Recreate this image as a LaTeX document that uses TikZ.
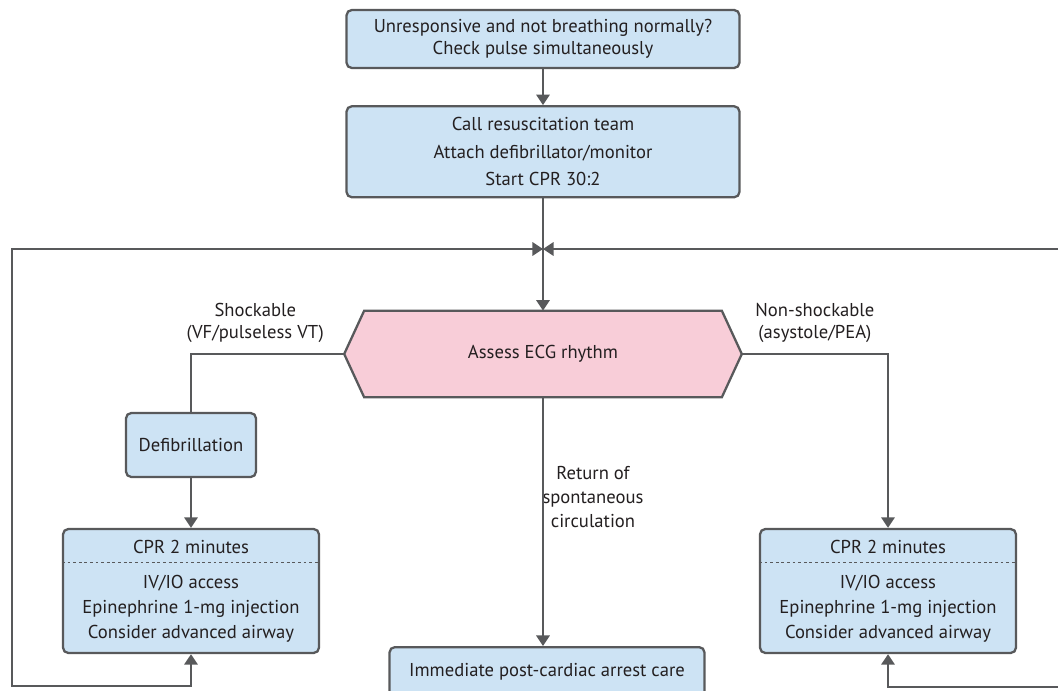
\documentclass[tikz,border=0pt]{standalone}
\usepackage{fontspec}
\setmainfont{PT Sans}
\usepackage{xcolor}
\usepackage{tikz}
\usetikzlibrary{calc}
\usetikzlibrary{positioning}
\usetikzlibrary{arrows.meta}
\definecolor{nodeColor}{HTML}{CDE3F4}
\definecolor{rhythmColor}{HTML}{F8CDD8}
\definecolor{lineColor}{HTML}{58595B}
\definecolor{textColor}{HTML}{231F20}
\tikzstyle{roundrect}=[rectangle, rounded corners=3pt, text centered, align=center, draw=lineColor, line width=1.3pt, fill=nodeColor, text=textColor, inner sep=0pt]
\tikzstyle{arrow}=[-{Triangle[length=6pt,width=7.5pt]}]
\tikzstyle{twoway}=[{Triangle[length=6pt,width=7.5pt]}-{Triangle[length=6pt,width=7.5pt]}]
\tikzset{
	rhythm/.style={
		draw=lineColor,
		line width=1.3pt,
		fill=rhythmColor
	},
	descr/.style={
		align=center,
		text=textColor,
		inner sep=0pt
	},
	line/.style={
		draw=lineColor,
		line width=1.5pt
	},
	dotline/.style={
		draw=lineColor,
		line width=0.8pt,
		dash pattern=on 1.6pt off 1.6pt
	}
}
\pgfdeclarelayer{background}
\pgfsetlayers{background,main}

\begin{document}
\begin{tikzpicture}[x=0.02cm, y=-0.02cm, font=\fontsize{10.6}{13.6}\selectfont]
	\useasboundingbox (0,0) rectangle (1058,690);
	\clip (0,0) rectangle (1058,690);
	
	\node(Check)[roundrect, minimum width=7.86cm, minimum height=1.16cm] at (543,39) {Unresponsive and not breathing normally?\\[-1.1pt]Check pulse simultaneously};
	
	\node(CallTeam)[roundrect, minimum width=7.86cm, minimum height=1.82cm, below=0.72cm of Check] {Call resuscitation team\\[2pt]Attach defibrillator/monitor\\[2pt]Start CPR 30:2};
	
	\node(Rhythm)[rectangle, text=textColor, minimum width=7.94cm, minimum height=1.72cm] at (543,354) {Assess ECG rhythm};
	
	\node(Defib)[roundrect, minimum width=2.6cm, minimum height=1.28cm] at (191,445) {Defibrillation};
	
	\node(CPRShock)[roundrect, minimum width=5.12cm, minimum height=2.48cm] at (191,591) {CPR 2 minutes\\[6.2pt]IV/IO access\\[0.6pt]Epinephrine 1-mg injection\\[0.6pt]Consider advanced airway};
	
	\node(CPRNonShock)[roundrect, minimum width=5.12cm, minimum height=2.48cm] at (888,591) {CPR 2 minutes\\[6.2pt]IV/IO access\\[0.6pt]Epinephrine 1-mg injection\\[0.6pt]Consider advanced airway};
	
	\node(PostCare)[roundrect, minimum width=6.3cm, minimum height=1cm, anchor=north] at (547,646) {Immediate post-cardiac arrest care};
	
	\node(RoscLabel)[descr] at (593,497) {Return of\\[-0.2pt]spontaneous\\[-0.2pt]circulation};
	
	\coordinate (Join) at (543,249);
	\coordinate (LoopLeft) at (12,686);
	\coordinate (LoopRight) at (1070,687);
	
	% dotted split in the CPR boxes
	\draw[dotline] ($(CPRShock.north west)!0.274!(CPRShock.south west)$) -- ($(CPRShock.north east)!0.274!(CPRShock.south east)$);
	\draw[dotline] ($(CPRNonShock.north west)!0.274!(CPRNonShock.south west)$) -- ($(CPRNonShock.north east)!0.274!(CPRNonShock.south east)$);
	
	\draw [line, arrow] (Check) -- (CallTeam);
	\draw [line, arrow] (CallTeam) -- (Rhythm);
	\draw [line] (Rhythm.west) -| node[descr, pos=0.25, above, yshift=6pt, xshift=-7pt] {Shockable\\[-1.5pt](VF/pulseless VT)} (Defib.north);
	\draw [line, arrow] (Rhythm.east) -| node[descr, pos=0.25, above, yshift=6pt] {Non-shockable\\[-1.5pt](asystole/PEA)} (CPRNonShock.north);
	\draw [line, arrow] (Defib) -- (CPRShock);
	\draw [line, arrow] (Rhythm.south) -- (Rhythm.south |- PostCare.north);
	
	\draw [line, twoway] (CPRShock.south) |- (LoopLeft) |- (Join);
	\draw [line, twoway] (CPRNonShock.south) |- (LoopRight) |- (Join);
	
	\begin{pgfonlayer}{background}
	% hexagon behind the rhythm text
	\path[rhythm] (Rhythm.west) -- ($(Rhythm.north west)+(20,0)$) -- ($(Rhythm.north east)-(20,0)$) -- (Rhythm.east) -- ($(Rhythm.south east)-(20,0)$) -- ($(Rhythm.south west)+(20,0)$) -- cycle;
	\end{pgfonlayer}
\end{tikzpicture}
\end{document}
